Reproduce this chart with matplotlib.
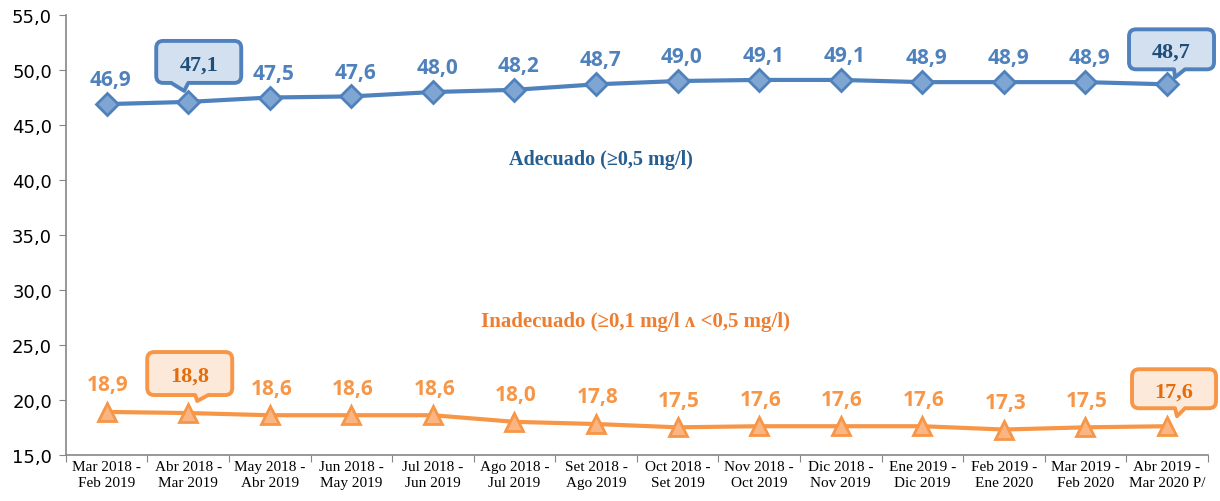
import matplotlib.pyplot as plt
import numpy as np
from matplotlib.ticker import FuncFormatter, FixedLocator
from matplotlib.path import Path
from matplotlib.patches import PathPatch
from matplotlib.transforms import ScaledTranslation

# periodos (etiquetas del eje x)
periodos = ['Mar 2018 -\nFeb 2019', 'Abr 2018 -\nMar 2019', 'May 2018 -\nAbr 2019',
            'Jun 2018 -\nMay 2019', 'Jul 2018 -\nJun 2019', 'Ago 2018 -\nJul 2019',
            'Set 2018 -\nAgo 2019', 'Oct 2018 -\nSet 2019', 'Nov 2018 -\nOct 2019',
            'Dic 2018 -\nNov 2019', 'Ene 2019 -\nDic 2019', 'Feb 2019 -\nEne 2020',
            'Mar 2019 -\nFeb 2020', 'Abr 2019 -\nMar 2020 P/']
adecuado = [46.9, 47.1, 47.5, 47.6, 48.0, 48.2, 48.7, 49.0, 49.1, 49.1, 48.9, 48.9, 48.9, 48.7]
inadecuado = [18.9, 18.8, 18.6, 18.6, 18.6, 18.0, 17.8, 17.5, 17.6, 17.6, 17.6, 17.3, 17.5, 17.6]
yticks = [15, 20, 25, 30, 35, 40, 45, 50, 55]

azul = '#4F81BD'
azul_osc = '#1F4E79'
naranja = '#F79646'
naranja_osc = '#E46C0A'

fig = plt.figure(figsize=(12.2, 5.02), dpi=100)
ax = fig.add_axes([0.054, 0.092, 0.936, 0.876])

x = np.arange(len(periodos))
ax.plot(x, adecuado, color=azul, lw=3, marker='D', ms=11, mfc='#7FA6D3', mec=azul, mew=2, zorder=3)
ax.plot(x, inadecuado, color=naranja, lw=3, marker='^', ms=13, mfc='#FAB583', mec=naranja, mew=2, zorder=3)

ax.set_xlim(-0.5, len(periodos) - 0.5)
ax.set_ylim(15, 55)
ax.set_yticks(yticks)
ax.yaxis.set_major_formatter(FuncFormatter(lambda v, p: ('%.1f' % v).replace('.', ',')))
ax.tick_params(axis='y', labelsize=13, length=5, color='#868686', pad=5)

# ticks del eje x en los limites de las categorias
ax.xaxis.set_major_locator(FixedLocator(np.arange(-0.5, len(periodos), 1.0)))
ax.xaxis.set_minor_locator(FixedLocator(x))
ax.set_xticklabels([], minor=False)
ax.set_xticklabels(periodos, minor=True, family='Liberation Serif', fontsize=11, linespacing=1.3)
ax.tick_params(axis='x', which='major', length=5, color='#868686')
ax.tick_params(axis='x', which='minor', length=0, pad=4)

for s in ['top', 'right']:
    ax.spines[s].set_visible(False)
for s in ['left', 'bottom']:
    ax.spines[s].set_color('#868686')
    ax.spines[s].set_linewidth(1.2)

# recuadros (callouts): caja x0, x1, y0, y1, base de la cola b1, b2, punta (tx, ty)
# en pixeles relativos al marcador
callouts_a = {1: (-32, 53, 19, 61, -17, 0, -4, 11), 13: (-38, 47, 15, 55, 7, 18, 8, 7)}
callouts_i = {1: (-41, 44, 18, 61, 7, 20, 9, 12), 13: (-35, 49, 18, 57, 8, 18, 10, 10)}


def callout(i, v, geo, tc, fc, ec):
    x0, x1, y0, y1, b1, b2, tx, ty = [g / 100.0 for g in geo]
    r = 0.07
    verts = [(x0 + r, y0), (b1, y0), (tx, ty), (b2, y0), (x1 - r, y0),
             (x1, y0), (x1, y0 + r), (x1, y1 - r),
             (x1, y1), (x1 - r, y1), (x0 + r, y1),
             (x0, y1), (x0, y1 - r), (x0, y0 + r),
             (x0, y0), (x0 + r, y0), (x0 + r, y0)]
    codes = [Path.MOVETO, Path.LINETO, Path.LINETO, Path.LINETO, Path.LINETO,
             Path.CURVE3, Path.CURVE3, Path.LINETO,
             Path.CURVE3, Path.CURVE3, Path.LINETO,
             Path.CURVE3, Path.CURVE3, Path.LINETO,
             Path.CURVE3, Path.CURVE3, Path.CLOSEPOLY]
    trans = fig.dpi_scale_trans + ScaledTranslation(i, v, ax.transData)
    ax.add_patch(PathPatch(Path(verts, codes), transform=trans, fc=fc, ec=ec, lw=2.8,
                           zorder=4, clip_on=False, joinstyle='round'))
    ax.text((x0 + x1) / 2, (y0 + y1) / 2, ('%.1f' % v).replace('.', ','), transform=trans,
            ha='center', va='center_baseline', fontsize=16, fontweight='bold',
            family='Liberation Serif', color=tc, zorder=5)


for i, v in enumerate(adecuado):
    if i in callouts_a:
        callout(i, v, callouts_a[i], azul_osc, '#D3E0EF', azul)
    else:
        ax.annotate(('%.1f' % v).replace('.', ','), (i, v), xytext=(3, 10), textcoords='offset points',
                    ha='center', va='bottom', fontsize=15, fontweight='bold', family='Open Sans', color=azul)

for i, v in enumerate(inadecuado):
    if i in callouts_i:
        callout(i, v, callouts_i[i], naranja_osc, '#FDE9D9', naranja)
    else:
        ax.annotate(('%.1f' % v).replace('.', ','), (i, v), xytext=(1, 12), textcoords='offset points',
                    ha='center', va='bottom', fontsize=15, fontweight='bold', family='Open Sans', color=naranja)

# nombres de las series
ax.text(6.06, 41.9, 'Adecuado (\u22650,5 mg/l)', ha='center', va='center', fontsize=14.5,
        fontweight='bold', family='Liberation Serif', color='#255E91')
ax.text(6.48, 27.2, 'Inadecuado (\u22650,1 mg/l \u028c <0,5 mg/l)', ha='center', va='center', fontsize=15,
        fontweight='bold', family=['Liberation Serif', 'DejaVu Serif'], color='#ED7D31')

fig.savefig('out.png', dpi=100)
